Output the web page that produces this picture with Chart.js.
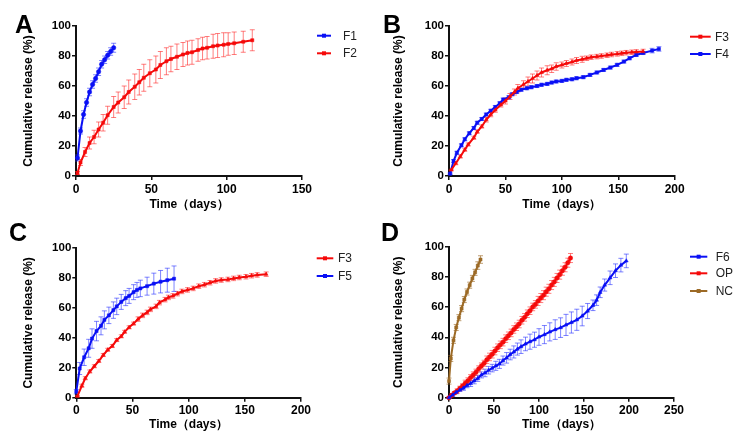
<!DOCTYPE html>
<html><head><meta charset="utf-8">
<script src="https://cdn.jsdelivr.net/npm/chart.js@4/dist/chart.umd.min.js"></script>
<style>
html,body{margin:0;padding:0;background:#fff;width:738px;height:439px;overflow:hidden;}
.panel{position:absolute;}
.letter{position:absolute;font:bold 25px "Liberation Sans",Arial,sans-serif;line-height:25px;color:#000;}
</style></head><body>
<div class="panel" style="left:0;top:0"><canvas id="cA" width="369" height="219"></canvas></div>
<div class="panel" style="left:369px;top:0"><canvas id="cB" width="369" height="219"></canvas></div>
<div class="panel" style="left:0;top:219px"><canvas id="cC" width="369" height="220"></canvas></div>
<div class="panel" style="left:369px;top:219px"><canvas id="cD" width="369" height="220"></canvas></div>
<div class="letter" style="left:15px;top:11.7px">A</div>
<div class="letter" style="left:383px;top:11.7px">B</div>
<div class="letter" style="left:9px;top:220.3px">C</div>
<div class="letter" style="left:381px;top:220.2px">D</div>
<script>
// ---------- Panel A ----------
const A_F1_days = [1, 3, 5, 7, 9, 11, 13, 15, 17, 19, 21, 23, 25];
const A_F1_vals = [12, 30, 41, 49, 56, 61, 65, 69.5, 74.5, 77.5, 80.5, 83, 85.5];
const A_F1_err  = [2, 2, 2.5, 2.5, 2.5, 2.5, 2.5, 2.5, 2.5, 2.5, 2.5, 2.5, 3];
const A_F2_days = [1, 3, 6, 9, 12, 15, 18, 21, 25, 28, 32, 35, 39, 42, 45, 49, 53, 56, 60, 63, 67, 71, 74, 77, 81, 84, 87, 91, 94, 98, 101, 105, 111, 117];
const A_F2_vals = [2, 9, 16, 22, 26, 31, 35.5, 40.5, 46, 49, 52.5, 56, 59.5, 62.5, 65.5, 68.5, 71, 74, 76.5, 78, 79.5, 81, 82, 82.5, 84, 85, 85.5, 86.5, 87, 87.5, 88, 88.5, 89.5, 90.5];
const A_F2_err  = [1, 2, 3, 4, 4.5, 5, 5.5, 6, 7, 7, 7.5, 8, 8.5, 8.5, 9, 9, 9, 9, 9, 8.5, 8.5, 8, 8, 8, 7.5, 7.5, 7.5, 8, 8, 8, 7.5, 7.5, 7, 7];
// ---------- Panel B ----------
const B_F3_days = [2, 6, 10, 14, 17, 22, 25, 29, 33, 37, 41, 46, 50, 54, 58, 61, 66, 70, 74, 78, 82, 87, 91, 95, 100, 104, 109, 113, 118, 122, 126, 131, 135, 140, 144, 149, 153, 157, 162, 166, 172];
const B_F3_vals = [4, 8.5, 13, 17.5, 21, 25.5, 29.5, 33, 37.5, 41, 44, 47.5, 50, 53, 56, 58.5, 61, 63, 65, 67, 69, 70.5, 71.5, 73, 74, 75, 76, 77, 77.8, 78.5, 79.2, 79.6, 80, 80.5, 81, 81.4, 81.8, 82.2, 82.5, 82.7, 83];
const B_F3_err  = [0.5, 1, 1, 1, 1, 1, 1, 1, 1.5, 1.5, 1.5, 1.5, 2, 2, 2, 2.5, 2.5, 3, 3, 3, 3, 3, 2.5, 2.5, 2, 2, 2, 2, 2, 1.5, 1.5, 1.5, 1.5, 1.5, 1.5, 1.5, 1.5, 1.5, 1.5, 1.5, 1.5];
const B_F4_days = [1, 4, 7, 11, 14, 18, 22, 25, 29, 33, 37, 41, 45, 48, 53, 56, 60, 64, 69, 73, 78, 82, 87, 91, 95, 100, 104, 109, 113, 119, 125, 131, 137, 143, 149, 155, 160, 166, 172, 180, 186];
const B_F4_vals = [1.5, 10, 15.5, 20.5, 24.5, 28.5, 32, 35.5, 38, 41, 43.5, 46, 48.5, 51, 52.5, 54.5, 56, 57.5, 58.5, 59.2, 60, 60.8, 61.4, 62.3, 63, 63.4, 64.1, 64.5, 65.2, 65.9, 67.4, 69, 70.7, 72.3, 74.1, 76.3, 78.5, 80.7, 82, 83.6, 84.7];
const B_F4_err  = [0.5, 1, 1, 1, 1, 1, 1, 1, 1, 1, 1, 1, 1, 1, 1, 1, 1, 1, 1, 1, 1, 1, 1, 1, 1, 1, 1, 1, 1, 1, 1, 1, 1, 1, 1, 1, 1, 1, 1, 1.5, 1.5];
// ---------- Panel C ----------
const C_F3_days = [1, 5, 8, 12, 16, 20, 24, 28, 32, 36, 40, 43, 47, 51, 55, 59, 63, 66, 71, 74, 79, 82, 86, 90, 94, 99, 104, 109, 114, 119, 124, 129, 135, 140, 145, 151, 156, 161, 169];
const C_F3_vals = [1, 8, 13, 17.5, 21, 24.5, 28.5, 32, 34.5, 38.5, 41, 44, 47, 49.5, 52.5, 55, 57, 59, 61, 63.5, 65.5, 67, 68, 69.5, 71, 72, 73, 74.5, 75.5, 76.8, 78, 78.6, 79, 79.7, 80.3, 80.8, 81.5, 82, 82.5];
const C_F3_err  = [0.5, 1, 1, 1, 1, 1, 1, 1, 1, 1, 1, 1, 1, 1, 1.5, 1.5, 1.5, 1.5, 1.5, 1.5, 1.5, 1.5, 1.5, 1.5, 1.5, 1.5, 1.5, 1.5, 1.5, 1.5, 1.5, 1.5, 1.5, 1.5, 1.5, 1.5, 1.5, 1.5, 1.5];
const C_F5_days = [0, 3, 7, 11, 14, 18, 22, 25, 29, 33, 36, 40, 44, 47, 51, 54, 57, 63, 69, 75, 81, 87];
const C_F5_vals = [4, 19.5, 27, 33, 39.5, 44.5, 48, 52, 55, 58.5, 61, 64, 66.5, 68, 70.5, 72, 73, 74.5, 76.2, 77.5, 78.5, 79.5];
const C_F5_err  = [1.5, 4, 5.5, 6, 6.5, 6.5, 6, 6, 5.5, 5.5, 5.5, 5, 5, 5, 5, 5, 5.5, 6, 7, 7.5, 8, 8.5];
// ---------- Panel D ----------
const D_F6_days = [0, 4, 8, 12, 16, 20, 24, 28, 32, 36, 40, 44, 48, 52, 56, 60, 64, 68, 72, 76, 80, 85, 90, 95, 100, 106, 112, 118, 124, 130, 136, 142, 148, 154, 160, 164, 168, 173, 179, 185, 191, 197];
const D_F6_vals = [0, 1.8, 3.6, 5.1, 6.4, 8.1, 9.4, 11.2, 12.8, 15.1, 16.4, 18.2, 19.6, 21.1, 22.4, 24.6, 26.4, 28.6, 30.3, 32.2, 33.8, 35.6, 37.1, 38.4, 40.2, 41.8, 43.6, 45.1, 46.4, 48.2, 49.8, 51.6, 54.1, 57.4, 61.2, 64.6, 69.8, 74.6, 79.4, 84.1, 87.8, 90.6];
const D_F6_err  = [0.5, 1, 1, 1, 1.5, 1.5, 2, 2, 2, 2, 2.5, 2.5, 2.5, 3, 3, 3, 3.5, 3.5, 4, 4, 4.5, 4.5, 5, 5, 5.5, 6, 6, 6.5, 6.5, 7, 7, 7, 6.5, 5, 3.5, 3.5, 3.5, 4, 4.5, 4.5, 4.5, 4.5];
const D_OP_days = [0, 3, 6, 9, 12, 15, 18, 21, 24, 27, 30, 33, 36, 39, 42, 45, 48, 51, 54, 57, 60, 63, 66, 69, 72, 75, 78, 81, 84, 87, 90, 93, 96, 99, 102, 105, 108, 111, 114, 117, 120, 123, 126, 129, 132, 135];
const D_OP_vals = [0, 1.6, 3.1, 4.4, 6.1, 7.7, 9.6, 11.2, 13.3, 15.1, 16.9, 19.1, 21, 22.8, 25.1, 27, 28.8, 30.9, 33.1, 35, 36.8, 39.1, 41, 42.9, 45.2, 47, 48.8, 51.3, 53.2, 55.6, 57.6, 60.1, 61.8, 64.1, 66, 67.9, 70.2, 72.1, 74.6, 76.7, 79.3, 81.5, 84.1, 86.4, 89.4, 92.5];
const D_OP_err  = [0.5, 1, 1, 1.5, 1.5, 1.5, 2, 2, 2, 2, 2, 2, 2, 2, 2.5, 2.5, 2.5, 2.5, 2.5, 2.5, 2.5, 2.5, 2.5, 2.5, 2.5, 2.5, 2.5, 2.5, 2.5, 2.5, 2.5, 2.5, 2.5, 3, 3, 3, 3, 3, 3, 3, 3, 3, 3, 3, 3, 3];
const D_NC_days = [0, 2, 5, 8, 11, 14, 17, 20, 23, 26, 29, 32, 35];
const D_NC_vals = [11, 26, 38, 46.5, 53, 59, 65, 70, 74.5, 79, 83, 87.5, 91.5];
const D_NC_err  = [2, 2, 2, 2, 2, 2, 2, 2, 2, 2, 2, 2.5, 2.5];

const xTitle = 'Time（days）';
const yTitle = 'Cumulative release (%)';
const yTicksMax = 100;

const BLUE = '#0a10f5', RED = '#f50a0a', BROWN = '#9c6a26';
const BLUE_E = 'rgba(40,50,255,0.6)', RED_E = 'rgba(255,40,40,0.6)', BROWN_E = 'rgba(156,106,38,0.65)';
const FONT = '"Liberation Sans", Arial, Helvetica, sans-serif';

const errorBars = {
  id: 'errorBars',
  beforeDatasetsDraw(chart) {
    const ctx = chart.ctx, xs = chart.scales.x, ys = chart.scales.y;
    chart.data.datasets.forEach(ds => {
      if (!ds.err) return;
      ctx.save();
      ctx.strokeStyle = ds.errColor; ctx.lineWidth = 1;
      ds.data.forEach((p, i) => {
        const e = ds.err[i]; if (!e) return;
        const px = xs.getPixelForValue(p.x);
        const y1 = ys.getPixelForValue(p.y + e), y2 = ys.getPixelForValue(p.y - e);
        ctx.beginPath();
        ctx.moveTo(px, y1); ctx.lineTo(px, y2);
        ctx.moveTo(px - 2.5, y1); ctx.lineTo(px + 2.5, y1);
        ctx.moveTo(px - 2.5, y2); ctx.lineTo(px + 2.5, y2);
        ctx.stroke();
      });
      ctx.restore();
    });
  }
};

const legendBox = {
  id: 'legendBox',
  afterDraw(chart, args, opts) {
    const ctx = chart.ctx;
    chart.data.datasets.forEach((ds, i) => {
      const y = opts.ys[i];
      ctx.save();
      ctx.strokeStyle = ds.borderColor; ctx.lineWidth = 2;
      ctx.beginPath(); ctx.moveTo(opts.x1, y); ctx.lineTo(opts.x2, y); ctx.stroke();
      ctx.fillStyle = ds.borderColor;
      ctx.fillRect((opts.x1 + opts.x2) / 2 - 2, y - 2, 4, 4);
      ctx.fillStyle = '#222';
      ctx.font = '12px ' + FONT;
      ctx.textBaseline = 'middle'; ctx.textAlign = 'left';
      ctx.fillText(ds.label, opts.tx, y + 0.5);
      ctx.restore();
    });
  }
};

function makeChart(id, cfg) {
  return new Chart(document.getElementById(id), {
    type: 'line',
    data: {
      datasets: cfg.series.map(s => ({
        label: s.label,
        data: s.x.map((x, i) => ({ x: x, y: s.y[i] })),
        err: s.err, errColor: s.errColor,
        borderColor: s.color, backgroundColor: s.color,
        borderWidth: 2, pointRadius: 2.2, pointBorderWidth: 0.5,
        pointStyle: s.marker, tension: 0, clip: false
      }))
    },
    options: {
      responsive: false, animation: false, events: [],
      layout: { padding: { top: cfg.top, right: cfg.right, left: 0, bottom: 0 } },
      plugins: { legend: { display: false }, tooltip: { enabled: false }, legendBox: cfg.legend },
      scales: {
        x: {
          type: 'linear', min: 0, max: cfg.xmax,
          ticks: { stepSize: 50, color: '#000', padding: 2, maxRotation: 0, font: { family: FONT, size: 12, weight: 'bold' } },
          grid: { display: true, drawOnChartArea: false, drawTicks: true, tickLength: 4, color: '#111', lineWidth: 1.5 },
          border: { display: true, color: '#111', width: 2 },
          title: { display: true, text: xTitle, color: '#000', font: { family: FONT, size: 12, weight: 'bold' }, padding: { top: 0, bottom: cfg.xtPad } },
          afterFit(s) { s.height = cfg.xh; }
        },
        y: {
          type: 'linear', min: 0, max: yTicksMax,
          ticks: { stepSize: 20, color: '#000', padding: 1, font: { family: FONT, size: 11.5, weight: 'bold' } },
          grid: { display: true, drawOnChartArea: false, drawTicks: true, tickLength: 4, color: '#111', lineWidth: 1.5 },
          border: { display: true, color: '#111', width: 2 },
          title: { display: true, text: yTitle, color: '#000', font: { family: FONT, size: 12, weight: 'bold' }, padding: { top: cfg.ytPad, bottom: 0 } },
          afterFit(s) { s.width = cfg.yw; }
        }
      }
    },
    plugins: [errorBars, legendBox]
  });
}

makeChart('cA', {
  top: 26, right: 67, yw: 76, xh: 43, xmax: 150, ytPad: 21, xtPad: 7,
  legend: { x1: 317, x2: 331, tx: 343, ys: [35.7, 53.3] },
  series: [
    { label: 'F1', x: A_F1_days, y: A_F1_vals, err: A_F1_err, color: BLUE, errColor: BLUE_E, marker: 'circle' },
    { label: 'F2', x: A_F2_days, y: A_F2_vals, err: A_F2_err, color: RED, errColor: RED_E, marker: 'rect' }
  ]
});
makeChart('cB', {
  top: 26, right: 63.3, yw: 80, xh: 43, xmax: 200, ytPad: 22, xtPad: 6.8,
  legend: { x1: 321, x2: 341.7, tx: 346, ys: [36.7, 54] },
  series: [
    { label: 'F3', x: B_F3_days, y: B_F3_vals, err: B_F3_err, color: RED, errColor: RED_E, marker: 'triangle' },
    { label: 'F4', x: B_F4_days, y: B_F4_vals, err: B_F4_err, color: BLUE, errColor: BLUE_E, marker: 'rect' }
  ]
});
makeChart('cC', {
  top: 29, right: 68, yw: 76.3, xh: 41.3, xmax: 200, ytPad: 21, xtPad: 6.8,
  legend: { x1: 316.7, x2: 333.3, tx: 338, ys: [39.3, 57] },
  series: [
    { label: 'F3', x: C_F3_days, y: C_F3_vals, err: C_F3_err, color: RED, errColor: RED_E, marker: 'triangle' },
    { label: 'F5', x: C_F5_days, y: C_F5_vals, err: C_F5_err, color: BLUE, errColor: BLUE_E, marker: 'rect' }
  ]
});
makeChart('cD', {
  top: 27.7, right: 64, yw: 80, xh: 41.3, xmax: 250, ytPad: 22, xtPad: 6.8,
  legend: { x1: 321, x2: 338.3, tx: 346.7, ys: [37.7, 54.3, 72] },
  series: [
    { label: 'F6', x: D_F6_days, y: D_F6_vals, err: D_F6_err, color: BLUE, errColor: BLUE_E, marker: 'triangle' },
    { label: 'OP', x: D_OP_days, y: D_OP_vals, err: D_OP_err, color: RED, errColor: RED_E, marker: 'circle' },
    { label: 'NC', x: D_NC_days, y: D_NC_vals, err: D_NC_err, color: BROWN, errColor: BROWN_E, marker: 'rect' }
  ]
});
</script>
</body></html>
